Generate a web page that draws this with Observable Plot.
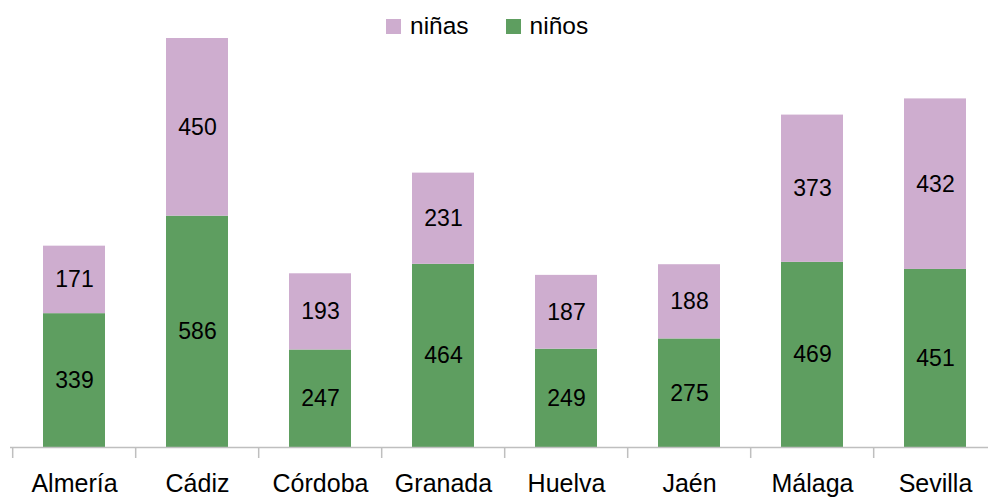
<!DOCTYPE html>
<html>
<head>
<meta charset="utf-8">
<script src="https://cdn.jsdelivr.net/npm/d3@7"></script>
<script src="https://cdn.jsdelivr.net/npm/@observablehq/plot@0.6"></script>
<style>
  html, body { margin: 0; padding: 0; background: #fff; overflow: hidden; width: 988px; height: 498px; }
  #wrap { position: relative; width: 988px; height: 498px; overflow: hidden; font-family: "Liberation Sans", Arial, sans-serif; }
  #chart { width: 999px; }
  #chart svg { max-width: none !important; }
  #legend { position: absolute; top: 12px; left: 386px; display: flex; align-items: center; font-size: 24.5px; color: #000; }
  .sw { width: 15px; height: 15px; display: inline-block; margin-right: 9px; }
  .item { display: flex; align-items: center; margin-right: 37px; }
</style>
</head>
<body>
<div id="wrap">
  <div id="chart"></div>
  <div id="legend"></div>
</div>
<script>
const provinces = ["Almería", "Cádiz", "Córdoba", "Granada", "Huelva", "Jaén", "Málaga", "Sevilla"];
const ninos = [339, 586, 247, 464, 249, 275, 469, 451];
const ninas = [171, 450, 193, 231, 187, 188, 373, 432];
const series = ["niños", "niñas"];
const colors = {"niños": "#5e9e60", "niñas": "#ceadcf"};
const legendOrder = ["niñas", "niños"];

const data = [];
provinces.forEach((p, i) => {
  data.push({prov: p, group: "niños", value: ninos[i]});
  data.push({prov: p, group: "niñas", value: ninas[i]});
});

const W = 999, H = 498, mL = 10, mR = 0, mT = 38, mB = 51;
const step = (W - mL - mR) / provinces.length;
const totals = provinces.map((p, i) => ninos[i] + ninas[i]);
const yMax = d3.max(totals);
const pxPerUnit = (H - mT - mB) / yMax;
const tickLen = 11 / pxPerUnit;

const chart = Plot.plot({
  width: W,
  height: H,
  marginLeft: mL,
  marginRight: mR,
  marginTop: mT,
  marginBottom: mB,
  style: {fontFamily: "'Liberation Sans', Arial, sans-serif", background: "#fff", overflow: "visible"},
  x: {domain: provinces, paddingInner: 0.5, paddingOuter: 0.25, align: 0.5, label: null, axis: null},
  y: {domain: [0, yMax], axis: null},
  color: {domain: series, range: series.map(s => colors[s])},
  marks: [
    Plot.barY(data, Plot.stackY({x: "prov", y: "value", z: "group", order: series, fill: "group"})),
    Plot.text(data, Plot.stackY({x: "prov", y: "value", z: "group", order: series, text: d => String(d.value), fontSize: 23, fill: "#000"})),
    Plot.ruleY([0], {stroke: "#bfbfbf", strokeWidth: 1.5}),
    Plot.ruleX(provinces, {x: d => d, dx: -step / 2, y1: 0, y2: -tickLen, stroke: "#bfbfbf", strokeWidth: 1.5}),
    Plot.text(provinces, {x: d => d, frameAnchor: "bottom", lineAnchor: "middle", dy: 36, text: d => d, fontSize: 25, fill: "#000"})
  ]
});
document.getElementById("chart").appendChild(chart);

const legend = document.getElementById("legend");
legendOrder.forEach(s => {
  const it = document.createElement("div");
  it.className = "item";
  const sw = document.createElement("span");
  sw.className = "sw";
  sw.style.background = colors[s];
  it.appendChild(sw);
  it.appendChild(document.createTextNode(s));
  legend.appendChild(it);
});
</script>
</body>
</html>
